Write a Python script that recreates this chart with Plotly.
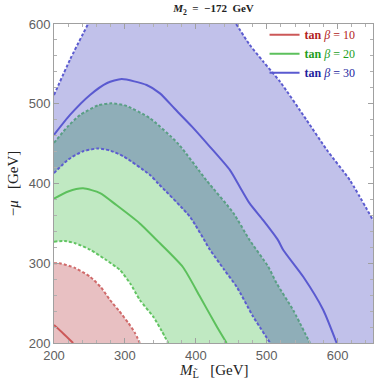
import plotly.graph_objects as go

# ---- axis ranges / ticks ----
X_RANGE = [200, 650]
Y_RANGE = [200, 600]
x_ticks = [200, 300, 400, 500, 600]
y_ticks = [200, 300, 400, 500, 600]

# ---- tan beta = 10 (red) ----
red_solid_x = [200, 213, 227]
red_solid_y = [222.6, 212, 200]
red_edge_x = [200, 208, 230, 251, 266, 279, 292, 305, 314, 321]
red_edge_y = [300, 300, 294, 283, 270, 254, 240, 225, 213, 200]

# ---- tan beta = 20 (green) ----
green_low_x = [200, 215, 230, 251, 272, 293, 308, 321, 340, 352, 361]
green_low_y = [327, 328, 325, 317, 305, 291.5, 274, 254, 233, 215, 200]
green_solid_x = [200, 220, 241, 265, 288, 321, 349.5, 382, 406, 430, 443.5]
green_solid_y = [381, 390, 394, 388, 373, 350, 325, 295, 258, 220, 200]
green_up_x = [200, 220, 237, 262, 281, 300, 335, 375, 415, 453, 476, 502, 514, 537.5, 561]
green_up_y = [451, 472, 486, 498, 500.5, 498, 482, 450, 404, 363, 329, 296, 275, 241, 200]

# ---- tan beta = 30 (blue) ----
blue_low_x = [200, 220, 240, 262.5, 280, 298, 335, 347, 392, 420, 440, 458, 481, 505]
blue_low_y = [413, 430, 440, 444, 441, 434, 411, 400, 358, 317, 292, 270, 233, 200]
blue_solid_x = [200, 222.6, 250.8, 275, 295.5, 330.7, 349.5, 370, 395, 420, 448, 462, 476, 495, 516, 523.4, 551.6, 579.8, 598.7]
blue_solid_y = [461, 486, 511, 526, 531, 523.5, 513, 494, 471, 446, 417, 396, 375, 354, 329, 316.6, 283, 241.4, 200]
blue_outer_left_x = [200, 223, 248]
blue_outer_left_y = [511, 556, 600]
blue_outer_right_x = [457, 476, 495, 519, 556, 585, 617.5, 650]
blue_outer_right_y = [600, 574, 553, 527.5, 480, 442, 404, 354]

# ---- colours ----
RED_FILL, GREEN_FILL, BLUE_FILL, TEAL_FILL = "#E8C0C2", "#C0E9C2", "#C1C1EA", "#8FAEB8"
RED_LINE, GREEN_LINE, BLUE_LINE = "#CC5858", "#5CC05C", "#5A5AD0"
RED_DASH, GREEN_DASH, BLUE_DASH = "#D06A6A", "#62C462", "#5C5CD0"
TEAL_DASH = "#5A9E86"
SERIF = "Liberation Serif, DejaVu Serif, serif"

fig = go.Figure()

# blue band
bx = blue_outer_left_x + blue_outer_right_x + [X_RANGE[1]] + blue_low_x[::-1]
by = blue_outer_left_y + blue_outer_right_y + [Y_RANGE[0]] + blue_low_y[::-1]
fig.add_trace(go.Scatter(x=bx, y=by, fill="toself", fillcolor=BLUE_FILL, mode="none",
                         showlegend=False, hoverinfo="skip"))
# green band
gx = green_low_x + green_up_x[::-1]
gy = green_low_y + green_up_y[::-1]
fig.add_trace(go.Scatter(x=gx, y=gy, fill="toself", fillcolor=GREEN_FILL, mode="none",
                         showlegend=False, hoverinfo="skip"))
# overlap (teal)
tx = blue_low_x + green_up_x[::-1]
ty = blue_low_y + green_up_y[::-1]
fig.add_trace(go.Scatter(x=tx, y=ty, fill="toself", fillcolor=TEAL_FILL, mode="none",
                         showlegend=False, hoverinfo="skip"))
# red band
rx = red_edge_x + [X_RANGE[0]]
ry = red_edge_y + [Y_RANGE[0]]
fig.add_trace(go.Scatter(x=rx, y=ry, fill="toself", fillcolor=RED_FILL, mode="none",
                         showlegend=False, hoverinfo="skip"))

def dashed(x, y, c):
    fig.add_trace(go.Scatter(x=x, y=y, mode="lines", showlegend=False, hoverinfo="skip",
                             line=dict(color=c, width=2, dash="3px,2px", shape="spline", smoothing=0.6)))

dashed(red_edge_x, red_edge_y, RED_DASH)
dashed(green_low_x, green_low_y, GREEN_DASH)
dashed(green_up_x, green_up_y, TEAL_DASH)
dashed(blue_low_x, blue_low_y, BLUE_DASH)
dashed(blue_outer_left_x, blue_outer_left_y, BLUE_DASH)
dashed(blue_outer_right_x, blue_outer_right_y, BLUE_DASH)

def solid(x, y, c, name):
    fig.add_trace(go.Scatter(x=x, y=y, mode="lines", name=name, hoverinfo="skip",
                             line=dict(color=c, width=2, shape="spline", smoothing=0.6)))

solid(red_solid_x, red_solid_y, RED_LINE,
      '<span style="color:#B22222"><b>tan</b> <i>β</i> = 10</span>')
solid(green_solid_x, green_solid_y, GREEN_LINE,
      '<span style="color:#1E9E1E"><b>tan</b> <i>β</i> = 20</span>')
solid(blue_solid_x, blue_solid_y, BLUE_LINE,
      '<span style="color:#1E1E9E"><b>tan</b> <i>β</i> = 30</span>')

axis_common = dict(
    showgrid=False, zeroline=False, showline=True, linecolor="#A0A0A0", linewidth=1,
    mirror="allticks", ticks="inside", ticklen=5, tickcolor="#A0A0A0",
    minor=dict(dtick=20, ticks="inside", ticklen=3, tickcolor="#B0B0B0"),
    tickfont=dict(family="Liberation Sans, Arial, sans-serif", size=13, color="#606060"),
    automargin=False,
)

fig.update_layout(
    width=374, height=389,
    margin=dict(l=54, r=1, t=24, b=46),
    paper_bgcolor="white", plot_bgcolor="white",
    title=dict(text="<b><i>M</i><sub>2</sub>  =  −172  GeV</b>", x=0.5, xref="paper",
               y=0.988, yanchor="top",
               font=dict(family=SERIF, size=11, color="#222")),
    xaxis=dict(range=X_RANGE, tickvals=x_ticks, **axis_common),
    yaxis=dict(range=Y_RANGE, tickvals=y_ticks, **axis_common,
               title=dict(text="−<i>μ</i>   [GeV]", standoff=6,
                          font=dict(family=SERIF, size=15, color="#222"))),
    legend=dict(x=0.66, xanchor="left", y=1.012, yanchor="top", bgcolor="rgba(0,0,0,0)",
                font=dict(family=SERIF, size=12),
                itemwidth=30, tracegroupgap=0),
    showlegend=True,
    annotations=[dict(text="<i>M</i><sub>L̃</sub>   [GeV]", xref="paper", yref="paper",
                      x=0.5, y=-0.088, xanchor="center", yanchor="middle", showarrow=False,
                      font=dict(family=SERIF, size=15, color="#222"))],
)

fig.write_html("out.html",
               config={"displayModeBar": False},
               post_script="document.body.style.margin='0';document.body.style.overflow='hidden';")
